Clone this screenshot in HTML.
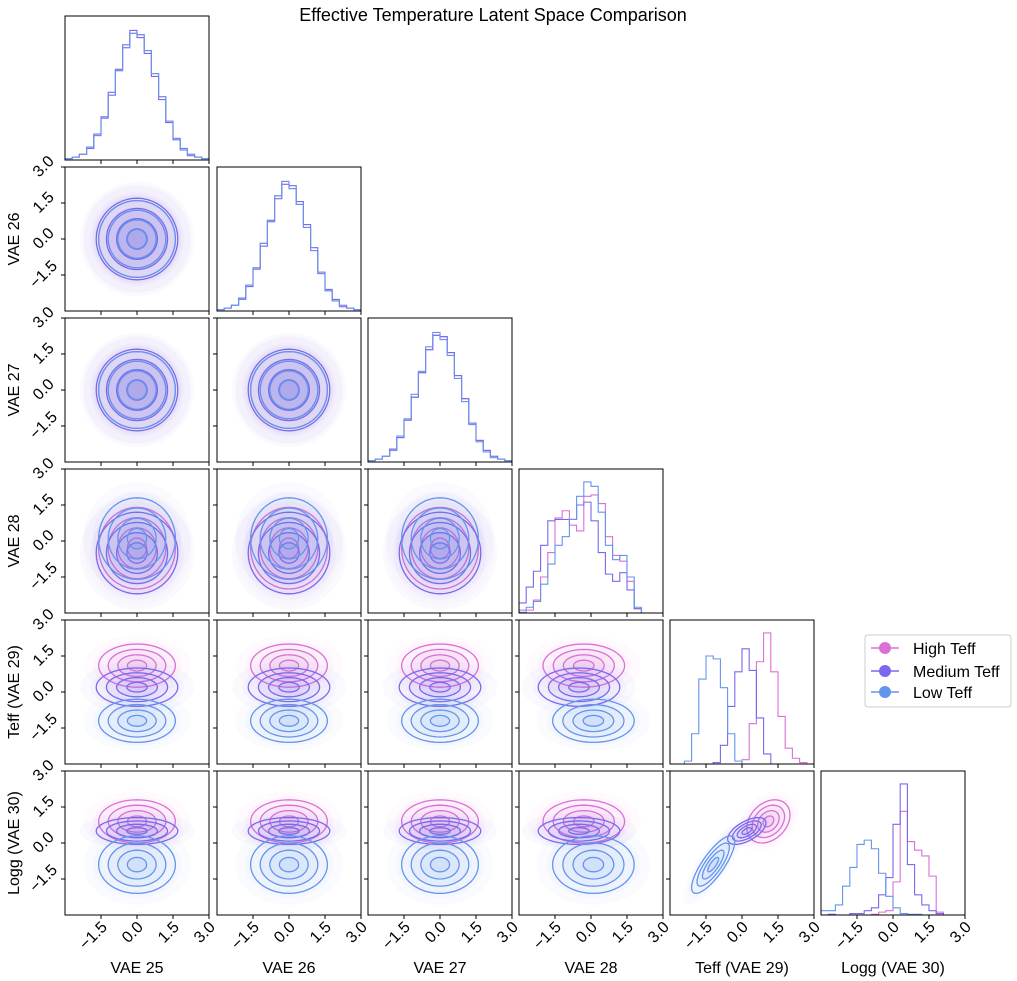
<!DOCTYPE html>
<html><head><meta charset="utf-8"><style>
body{margin:0;background:#fff}
svg{display:block;font-family:"Liberation Sans",sans-serif}
</style></head><body>
<svg id="c" width="1017" height="981" viewBox="0 0 1017 981">
<rect width="1017" height="981" fill="#fff"/>
<text x="493" y="21" font-size="18" text-anchor="middle">Effective Temperature Latent Space Comparison</text>
<g>
<rect x="865" y="635" width="146" height="72" rx="3" fill="#fff" stroke="#ccc"/>
<g><line x1="871" y1="648" x2="899" y2="648" stroke="#DA70D6" stroke-width="1.5"/><circle cx="885" cy="648" r="6" fill="#DA70D6"/><text x="913" y="654" font-size="16">High Teff</text></g>
<g><line x1="871" y1="671" x2="899" y2="671" stroke="#7B68EE" stroke-width="1.5"/><circle cx="885" cy="671" r="6" fill="#7B68EE"/><text x="913" y="677" font-size="16">Medium Teff</text></g>
<g><line x1="871" y1="692" x2="899" y2="692" stroke="#6495ED" stroke-width="1.5"/><circle cx="885" cy="692" r="6" fill="#6495ED"/><text x="913" y="698" font-size="16">Low Teff</text></g>
</g>
</svg>
<script>
const varNames = ["VAE 25","VAE 26","VAE 27","VAE 28","Teff (VAE 29)","Logg (VAE 30)"];
const groupNames = ["High Teff","Medium Teff","Low Teff"];
const groupColors = ["#DA70D6","#7B68EE","#6495ED"];
const tickValues = [-1.5,0,1.5,3.0];
const tickLabels = ["\u22121.5","0.0","1.5","3.0"];
const meansHigh = [0,0,0,-0.3,1.1,0.9];
const meansMed  = [0,0,0,-0.5,0.2,0.5];
const meansLow  = [0,0,0,0.1,-1.2,-0.9];
const stdHigh = [0.8,0.8,0.8,0.85,0.45,0.45];
const stdMed  = [0.85,0.85,0.85,0.85,0.4,0.28];
const stdLow  = [0.8,0.8,0.8,0.85,0.45,0.6];
const corr45 = [0.3,0.6,0.8];
const histA = [0.01,0.02,0.04,0.09,0.17,0.29,0.45,0.62,0.78,0.88,0.87,0.76,0.60,0.44,0.27,0.15,0.08,0.04,0.02,0.01];
const histB = [0.01,0.02,0.04,0.08,0.18,0.30,0.47,0.63,0.80,0.90,0.85,0.74,0.58,0.42,0.26,0.14,0.07,0.03,0.02,0.01];
const hist28High = [0.005,0.02,0.09,0.25,0.42,0.66,0.71,0.61,0.57,0.81,0.82,0.76,0.53,0.40,0.36,0.22,0.03,0,0,0];
const hist28Med  = [0.07,0.18,0.29,0.47,0.64,0.65,0.65,0.65,0.75,0.77,0.64,0.42,0.27,0.22,0.28,0.16,0.03,0,0,0];
const hist28Low  = [0.02,0.04,0.08,0.20,0.34,0.47,0.53,0.65,0.81,0.91,0.88,0.70,0.47,0.37,0.40,0.25,0.04,0,0,0];
const hist29High = [0,0,0,0,0,0,0,0,0,0,0.03,0.28,0.71,0.91,0.64,0.33,0.11,0.04,0.01,0];
const hist29Med  = [0,0,0,0,0,0,0.01,0.13,0.40,0.64,0.80,0.65,0.32,0.07,0,0,0,0,0,0];
const hist29Low  = [0,0,0.02,0.21,0.59,0.75,0.73,0.53,0.21,0.02,0,0,0,0,0,0,0,0,0,0];
const hist30High = [0,0,0,0,0,0,0,0.005,0.02,0.03,0.23,0.72,0.51,0.45,0.41,0.27,0.02,0,0,0];
const hist30Med  = [0,0.005,0,0,0.01,0.01,0.03,0.05,0.14,0.26,0.63,0.91,0.35,0.14,0.07,0.03,0.01,0,0,0];
const hist30Low  = [0.03,0.03,0.07,0.20,0.33,0.49,0.52,0.46,0.29,0.13,0.05,0.01,0.005,0.005,0,0,0,0,0,0];

const means=[meansHigh,meansMed,meansLow], stds=[stdHigh,stdMed,stdLow];
const hists=[[histA,histB,histA],[histB,histA,histB],[histA,histA,histB],[hist28High,hist28Med,hist28Low],[hist29High,hist29Med,hist29Low],[hist30High,hist30Med,hist30Low]];
const colX=[65,217,368,519,670,821], rowY=[16,167,318,469,620,771], S=144;
const NS="http://www.w3.org/2000/svg", svg=document.getElementById('c');
function mk(t,a,p){const e=document.createElementNS(NS,t);for(const k in a)e.setAttribute(k,a[k]);(p||svg).appendChild(e);return e;}
function sx(c,v){return colX[c]+(v+3)/6*S;}
function sy(r,v){return rowY[r]+S-(v+3)/6*S;}
const levels=[2.0,1.5,1.0,0.5];
for(let r=0;r<6;r++)for(let c=0;c<=r;c++){
  const g=mk('g',{});
  
  
  const cp=mk('clipPath',{id:'cp'+r+c},g);mk('rect',{x:colX[c],y:rowY[r],width:S,height:S},cp);
  const inner=mk('g',{'clip-path':'url(#cp'+r+c+')'},g);
  if(r===c){
    for(let k=0;k<3;k++){
      const h=hists[c][k];let d='M'+colX[c]+','+(rowY[r]+S);
      for(let b=0;b<h.length;b++){const x0=sx(c,-3+0.3*b),x1=sx(c,-3+0.3*(b+1)),y=rowY[r]+S-h[b]*S;d+=' L'+x0+','+y+' L'+x1+','+y;}
      d+=' L'+(colX[c]+S)+','+(rowY[r]+S);
      const p=mk('path',{d:d,fill:'none',stroke:groupColors[k],'stroke-width':1.1},inner);
      
      
    }
  } else {
    for(let k=0;k<3;k++){
      const mx=means[k][c],my=means[k][r],ax=stds[k][c],ay=stds[k][r];
      const rho=(c===4&&r===5)?corr45[k]:0;
      function ell(L){let d='';for(let i=0;i<=48;i++){const t=i/48*2*Math.PI;
        const vx=mx+L*ax*Math.cos(t),vy=my+L*ay*(rho*Math.cos(t)+Math.sqrt(1-rho*rho)*Math.sin(t));
        d+=(i?'L':'M')+sx(c,vx).toFixed(1)+','+sy(r,vy).toFixed(1);}return d+'Z';}
      mk('path',{d:ell(2.8),fill:groupColors[k],'fill-opacity':0.035},inner);
      mk('path',{d:ell(2.3),fill:groupColors[k],'fill-opacity':0.04},inner);
      for(const L of levels){
        const p=mk('path',{d:ell(L),fill:groupColors[k],'fill-opacity':L===2.0?0.03:0.07,stroke:groupColors[k],'stroke-width':1.3},inner);
        
        
      }
    }
  }
  mk('rect',{x:colX[c],y:rowY[r],width:S,height:S,fill:'none',stroke:'#000','stroke-width':1},g);
  for(const v of tickValues){
    mk('line',{x1:sx(c,v),x2:sx(c,v),y1:rowY[r]+S,y2:rowY[r]+S+4,stroke:'#000'},g);
    if(r!==c) mk('line',{x1:colX[c],x2:colX[c]-4,y1:sy(r,v),y2:sy(r,v),stroke:'#000'},g);
  }
}
for(let r=1;r<6;r++){
  tickValues.forEach((v,i)=>{const y=sy(r,v);
    const t=mk('text',{x:0,y:0,'font-size':16,'text-anchor':'middle',transform:'translate(47,'+(y+3)+') rotate(-45)'});
    t.textContent=tickLabels[i];
    
    });
  const l=mk('text',{x:0,y:0,'font-size':16,'text-anchor':'middle',transform:'translate(19,'+(rowY[r]+S/2)+') rotate(-90)'});
  l.textContent=varNames[r];
  
  
}
for(let c=0;c<6;c++){
  tickValues.forEach((v,i)=>{const x=sx(c,v);
    const t=mk('text',{x:0,y:0,'font-size':16,'text-anchor':'end',transform:'translate('+(x+7)+',928) rotate(-45)'});
    t.textContent=tickLabels[i];
    
    });
  const l=mk('text',{x:colX[c]+S/2,y:973,'font-size':16,'text-anchor':'middle'});
  l.textContent=varNames[c];
  
  
}
</script>
</body></html>
